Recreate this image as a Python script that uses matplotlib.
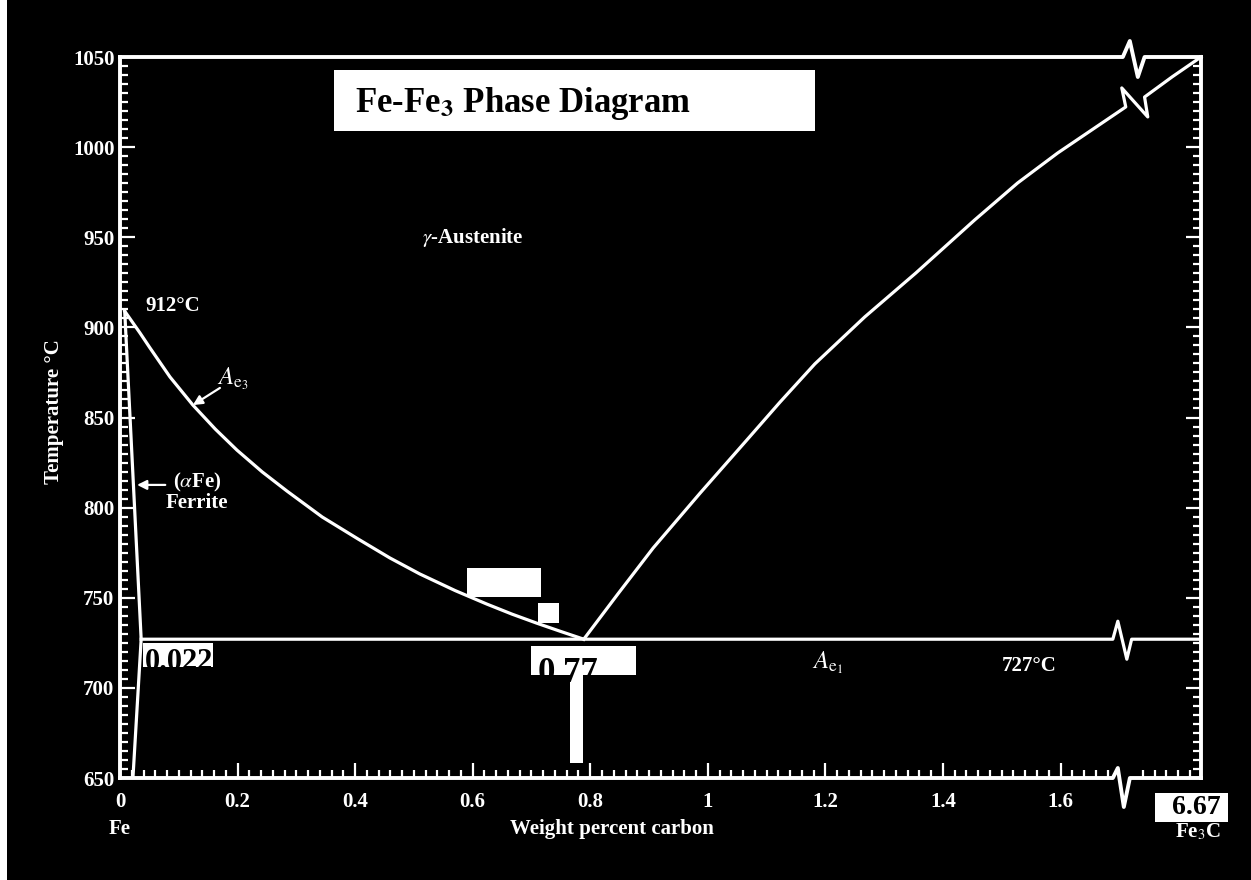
import numpy as np
import matplotlib.pyplot as plt
from matplotlib.patches import Rectangle
from matplotlib.ticker import MultipleLocator

plt.rcParams['font.family'] = ['Liberation Serif', 'DejaVu Serif']
plt.rcParams['mathtext.fontset'] = 'stix'

# phase boundaries (wt% C, deg C)
ferrite_x = [0.008, 0.036, 0.022]
ferrite_t = [909, 727, 650]

ae3_x = [0.008, 0.034, 0.051, 0.085, 0.124, 0.162, 0.199, 0.242, 0.284,
         0.344, 0.405, 0.459, 0.510, 0.570, 0.624, 0.667, 0.709, 0.748, 0.789]
ae3_t = [909, 896.9, 888.6, 872.5, 856.9, 843.6, 831.9, 819.8, 809.2,
         794.8, 782.6, 772.1, 763.2, 754.0, 746.5, 740.9, 735.9, 731.5, 727]

acm_x = [0.789, 0.847, 0.907, 0.987, 1.065, 1.123, 1.182, 1.267, 1.354,
         1.403, 1.454, 1.527, 1.595, 1.653, 1.711]
acm_t = [727, 752.1, 777.6, 808.1, 837.0, 858.6, 879.7, 905.8, 930.2,
         944.6, 959.6, 980.1, 996.7, 1009.5, 1022.3]
acm_x2 = [1.743, 1.790, 1.839]
acm_t2 = [1027.8, 1039.0, 1050]

eutectoid_t = 727
x_max = 1.839
t_min, t_max = 650, 1050

x_major = [0, 0.2, 0.4, 0.6, 0.8, 1.0, 1.2, 1.4, 1.6]
x_labels = ['0', '0.2', '0.4', '0.6', '0.8', '1', '1.2', '1.4', '1.6']
y_major = [650, 700, 750, 800, 850, 900, 950, 1000, 1050]

W = 'white'
LW = 2.3

fig = plt.figure(figsize=(12.51, 8.80), dpi=100, facecolor='black')
# thin white margin on the left edge of the scan
fig.patches.append(Rectangle((0, 0), 7 / 1251, 1, transform=fig.transFigure,
                             facecolor=W, edgecolor='none'))
ax = fig.add_axes([120 / 1251, 102 / 880, 1081 / 1251, 721 / 880])
ax.set_facecolor('black')
ax.set_xlim(0, x_max)
ax.set_ylim(t_min, t_max)


def zig(x0, y0, kinks):
    # break symbol: kink offsets are in pixels relative to the start point
    p0 = ax.transData.transform((x0, y0))
    pts = ax.transData.inverted().transform(p0 + np.array(kinks, dtype=float))
    return list(pts[:, 0]), list(pts[:, 1])


def broken_line(xa, ya, xb, yb, kinks, **kw):
    kx, ky = zig(xa[-1], ya[-1], kinks)
    ax.plot(xa + kx + xb, ya + ky + yb, **kw)


for s in ['top', 'bottom']:
    ax.spines[s].set_visible(False)
for s in ['left', 'right']:
    ax.spines[s].set_color(W)
    ax.spines[s].set_linewidth(2.8)

# frame top and bottom with break marks
broken_line([0, 1.706], [t_max, t_max], [1.743, x_max], [t_max, t_max],
            [(7, 16), (15, -20)], color=W, lw=2.8, clip_on=False)
broken_line([0, 1.689], [t_min, t_min], [1.718, x_max], [t_min, t_min],
            [(5, 10), (11, -29)], color=W, lw=2.8, clip_on=False)

# phase boundaries
ax.plot(ferrite_x, ferrite_t, color=W, lw=LW)
ax.plot(ae3_x, ae3_t, color=W, lw=LW)
broken_line(acm_x, acm_t, acm_x2, acm_t2, [(-4, 19), (22, -10)],
            color=W, lw=LW, clip_on=False)
broken_line([ferrite_x[1], 1.689], [eutectoid_t, eutectoid_t],
            [1.721, x_max], [eutectoid_t, eutectoid_t],
            [(5, 18), (14, -20)], color=W, lw=LW)

# ticks
ax.set_xticks(x_major, labels=x_labels)
x_minor = [v for v in np.arange(0.02, 1.83, 0.02)
           if not (1.685 < v < 1.73) and min(abs(v - m) for m in x_major) > 1e-6]
ax.set_xticks(x_minor, minor=True)
ax.set_yticks(y_major)
ax.yaxis.set_minor_locator(MultipleLocator(5))
ax.tick_params(axis='both', which='both', direction='in', color=W,
               labelcolor=W, labelsize=15, width=1.6)
ax.tick_params(axis='x', which='major', length=11, pad=10, top=False)
ax.tick_params(axis='x', which='minor', length=6, top=False)
ax.tick_params(axis='y', which='major', length=11, pad=4, right=True)
ax.tick_params(axis='y', which='minor', length=6, right=True)
for lab in ax.get_xticklabels() + ax.get_yticklabels():
    lab.set_fontweight('bold')

ax.set_xlabel('Weight percent carbon', color=W, fontsize=15, fontweight='bold')
ax.xaxis.set_label_coords(0.455, -0.057)
ax.set_ylabel('Temperature \u00b0C', color=W, fontsize=15, fontweight='bold',
              va='center')
ax.yaxis.set_label_coords(-0.061, 0.508)

# labels
txt = dict(color=W, fontsize=15, fontweight='bold', clip_on=False)
ax.text(0, 627.5, 'Fe', ha='center', va='top', **txt)
ax.text(1.834, 625.6, 'Fe$_3$C', ha='center', va='top', **txt)
ax.text(0.043, 909.1, '912\u00b0C', va='baseline', **txt)
ax.text(0.514, 946.8, r'$\gamma$-Austenite', va='baseline', **txt)
ax.text(0.131, 810.9, r'($\alpha$Fe)', ha='center', va='baseline', **txt)
ax.text(0.131, 799.8, 'Ferrite', ha='center', va='baseline', **txt)
ax.text(1.500, 709.4, '727\u00b0C', va='baseline', **txt)
mtxt = dict(color=W, fontsize=18, clip_on=False, va='baseline')
ax.text(0.165, 868.6, r'$A_{\mathrm{e}_3}$', **mtxt)
ax.text(1.177, 711.0, r'$A_{\mathrm{e}_1}$', **mtxt)

arrow = dict(arrowstyle='-|>', color=W, lw=1.6, mutation_scale=14,
             shrinkA=0, shrinkB=0)
ax.annotate('', xy=(0.124, 856.9), xytext=(0.170, 866.4), arrowprops=arrow)
ax.annotate('', xy=(0.029, 812.6), xytext=(0.077, 812.6), arrowprops=arrow)

# white overlay boxes
boxes = [
    (0.364, 1008.9, 0.818, 33.9),   # title
    (0.590, 750.4, 0.126, 16.1),
    (0.711, 736.0, 0.036, 11.1),
    (0.699, 707.1, 0.179, 16.1),    # 0.77
    (0.765, 658.3, 0.023, 48.8),    # bar
    (0.039, 711.6, 0.119, 13.3),    # 0.022
    (1.760, 625.6, 0.125, 16.1),    # 6.67
]
for bx, by, bw, bh in boxes:
    ax.add_patch(Rectangle((bx, by), bw, bh, facecolor=W, edgecolor='none',
                           zorder=5, clip_on=False))

ax.text(0.400, 1019.5, 'Fe-Fe$_\\mathbf{3}$ Phase Diagram', color='black',
        fontsize=25, fontweight='bold', va='baseline', zorder=6)
ax.text(0.043, 710.0, '0.022', color='black', fontsize=22, fontweight='bold',
        va='baseline', zorder=6, clip_on=False)
ax.text(0.711, 703.3, '0.77', color='black', fontsize=25, fontweight='bold',
        va='baseline', zorder=6, clip_on=False)
ax.text(1.789, 630.0, '6.67', color='black', fontsize=20, fontweight='bold',
        va='baseline', zorder=6, clip_on=False)

fig.savefig('out.png', dpi=100, facecolor='black')
